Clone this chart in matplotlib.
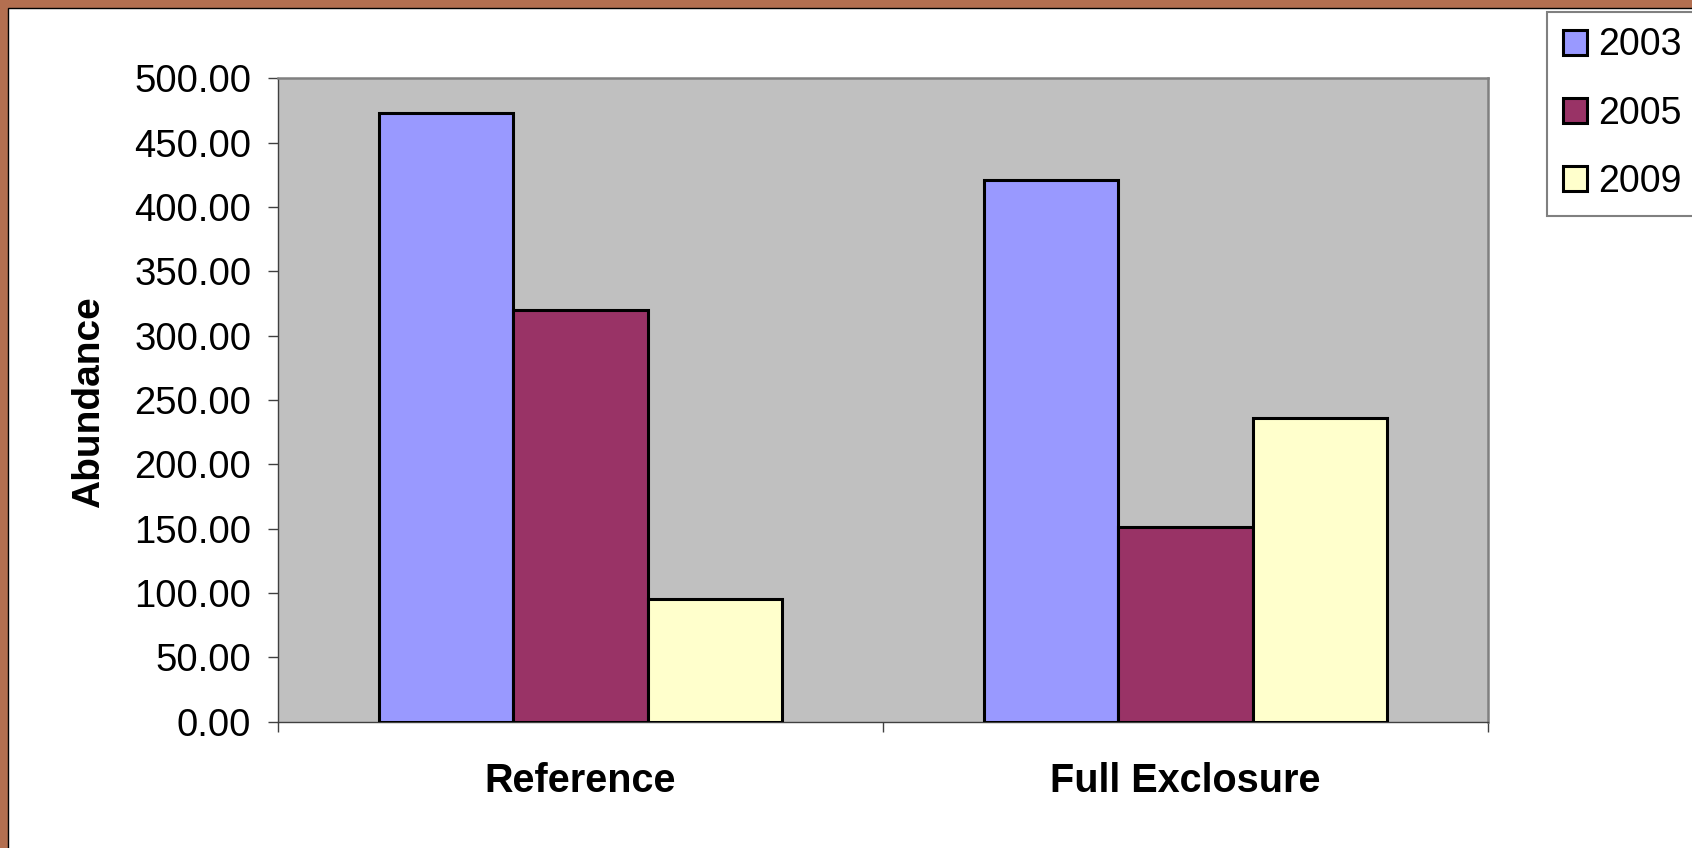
import matplotlib
matplotlib.use("Agg")
import matplotlib.pyplot as plt
from matplotlib.patches import Rectangle
import numpy as np

plt.rcParams['font.family'] = ['Liberation Sans', 'DejaVu Sans']

# data
sites = ['Reference', 'Full Exclosure']
years = ['2003', '2005', '2009']
abund_2003 = [473, 421]
abund_2005 = [320, 151.5]
abund_2009 = [95, 236]
yticks = np.arange(0, 501, 50)

colors = ['#9999ff', '#993366', '#ffffcc']

fig = plt.figure(figsize=(16.92, 8.48), dpi=100)
fig.patch.set_facecolor('#b36f50')

# white slide panel on top of the brownish background
panel = Rectangle((8 / 1692, -0.01), 1.1, 1 - 8 / 848 + 0.01,
                  transform=fig.transFigure, facecolor='white',
                  edgecolor='black', linewidth=1, zorder=0)
fig.add_artist(panel)

ax = fig.add_axes([277.7 / 1692, 1 - 721.7 / 848,
                   (1488 - 277.7) / 1692, (721.7 - 78.3) / 848])
ax.set_facecolor('#c0c0c0')

x = np.arange(len(sites))
w = 2 / 9
series = [abund_2003, abund_2005, abund_2009]
for i, (vals, c, lab) in enumerate(zip(series, colors, years)):
    ax.bar(x + (i - 1) * w, vals, width=w, color=c, edgecolor='black',
           linewidth=2.2, label=lab, zorder=3)

ax.set_xlim(-0.5, 1.5)
ax.set_ylim(0, 500)
ax.set_yticks(yticks)
ax.set_yticklabels(['{:.2f}'.format(v) for v in yticks])
ax.tick_params(axis='y', direction='out', length=7, width=1, color='#404040',
               labelsize=27.5, pad=12)

ax.set_xticks(x)
ax.set_xticklabels(sites, fontweight='bold')
ax.tick_params(axis='x', which='major', length=0, labelsize=28.5, pad=29)
ax.set_xticks([-0.5, 0.5, 1.5], minor=True)
ax.tick_params(axis='x', which='minor', direction='out', length=7, width=1,
               color='#404040')

for s in ['top', 'right']:
    ax.spines[s].set_color('#808080')
    ax.spines[s].set_linewidth(1.8)
for s in ['left', 'bottom']:
    ax.spines[s].set_color('#404040')
    ax.spines[s].set_linewidth(1)

ax.set_ylabel('Abundance', fontsize=28, fontweight='bold', va='center')
ax.yaxis.set_label_coords((89 - 277.7) / 1210.3, 0.497)

leg = ax.legend(loc='upper left', bbox_to_anchor=(1547 / 1692, 1 - 11.7 / 848),
                bbox_transform=fig.transFigure, borderaxespad=0,
                fontsize=27, handlelength=0.64, handleheight=0.64,
                handletextpad=0.3, borderpad=0.42, labelspacing=0.86,
                fancybox=False, framealpha=1, edgecolor='#808080')
leg.get_frame().set_linewidth(1.5)

fig.savefig('out.png', dpi=100, facecolor=fig.get_facecolor())
